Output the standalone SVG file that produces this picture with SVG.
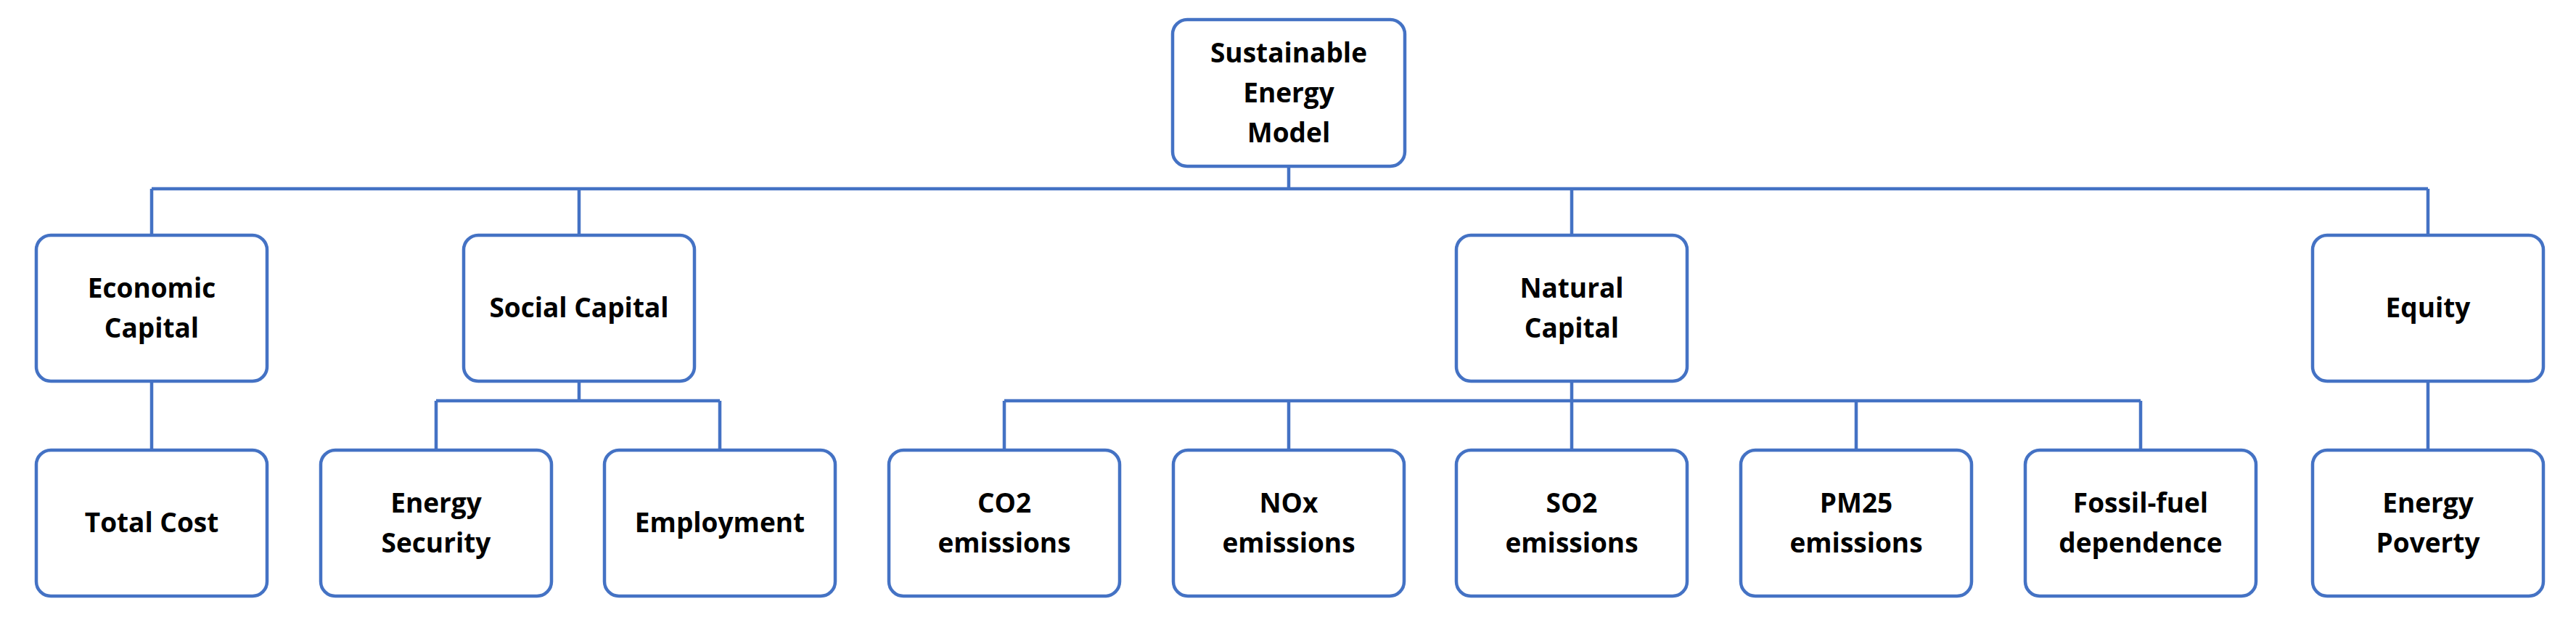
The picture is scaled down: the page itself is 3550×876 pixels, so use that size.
<svg xmlns="http://www.w3.org/2000/svg" width="3550" height="876" viewBox="0 0 3550 876">
<style>
.n rect{fill:#fff;stroke:#4472C4;stroke-width:4.5}
.n text{font-family:"Open Sans","Liberation Sans",sans-serif;font-weight:bold;font-size:37px;fill:#000;text-anchor:middle}
#connectors path{fill:none;stroke:#4472C4;stroke-width:4.5}
</style>
<rect width="3550" height="876" fill="#fff"/>
<g id="connectors">
<path d="M1776 229V260M209 260H3346M209 260V324M798 260V324M2166 260V324M3346 260V324"/>
<path d="M209 525V620M3346 525V620"/>
<path d="M798 525V552M601 552H992M601 552V620M992 552V620"/>
<path d="M2166 525V552M1384 552H2950M1384 552V620M1776 552V620M2166 552V620M2558 552V620M2950 552V620"/>
</g>
<g id="sem" class="n"><rect x="1616" y="27" width="320" height="202" rx="20"/><text x="1776" y="86">Sustainable</text><text x="1776" y="141">Energy</text><text x="1776" y="196">Model</text></g>
<g id="econ" class="n"><rect x="50" y="324" width="318" height="201" rx="20"/><text x="209" y="410">Economic</text><text x="209" y="465">Capital</text></g>
<g id="social" class="n"><rect x="639" y="324" width="318" height="201" rx="20"/><text x="798" y="437">Social Capital</text></g>
<g id="natural" class="n"><rect x="2007" y="324" width="318" height="201" rx="20"/><text x="2166" y="410">Natural</text><text x="2166" y="465">Capital</text></g>
<g id="equity" class="n"><rect x="3187" y="324" width="318" height="201" rx="20"/><text x="3346" y="437">Equity</text></g>
<g id="cost" class="n"><rect x="50" y="620" width="318" height="201" rx="20"/><text x="209" y="733">Total Cost</text></g>
<g id="security" class="n"><rect x="442" y="620" width="318" height="201" rx="20"/><text x="601" y="706">Energy</text><text x="601" y="761">Security</text></g>
<g id="employment" class="n"><rect x="833" y="620" width="318" height="201" rx="20"/><text x="992" y="733">Employment</text></g>
<g id="co2" class="n"><rect x="1225" y="620" width="318" height="201" rx="20"/><text x="1384" y="706">CO2</text><text x="1384" y="761">emissions</text></g>
<g id="nox" class="n"><rect x="1617" y="620" width="318" height="201" rx="20"/><text x="1776" y="706">NOx</text><text x="1776" y="761">emissions</text></g>
<g id="so2" class="n"><rect x="2007" y="620" width="318" height="201" rx="20"/><text x="2166" y="706">SO2</text><text x="2166" y="761">emissions</text></g>
<g id="pm25" class="n"><rect x="2399" y="620" width="318" height="201" rx="20"/><text x="2558" y="706">PM25</text><text x="2558" y="761">emissions</text></g>
<g id="fossil" class="n"><rect x="2791" y="620" width="318" height="201" rx="20"/><text x="2950" y="706">Fossil-fuel</text><text x="2950" y="761">dependence</text></g>
<g id="poverty" class="n"><rect x="3187" y="620" width="318" height="201" rx="20"/><text x="3346" y="706">Energy</text><text x="3346" y="761">Poverty</text></g>
</svg>
